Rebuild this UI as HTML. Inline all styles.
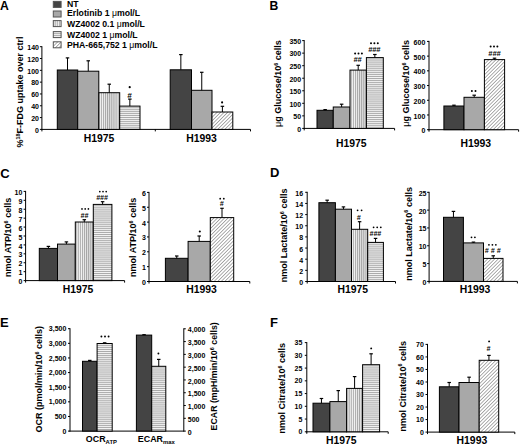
<!DOCTYPE html><html><head><meta charset="utf-8"><style>html,body{margin:0;padding:0;background:#fff;}svg{display:block;font-family:"Liberation Sans",sans-serif;}</style></head><body>
<svg width="520" height="445" viewBox="0 0 520 445">
<defs>
<pattern id="pv" width="2.1" height="10" patternUnits="userSpaceOnUse"><rect width="2.1" height="10" fill="#f4f4f4"/><rect x="0" width="1.1" height="10" fill="#a4a4a4"/></pattern>
<pattern id="ph" width="10" height="1.95" patternUnits="userSpaceOnUse"><rect width="10" height="1.95" fill="#f4f4f4"/><rect y="0" width="10" height="0.95" fill="#a8a8a8"/></pattern>
<pattern id="pd" width="2.5" height="2.5" patternUnits="userSpaceOnUse" patternTransform="rotate(45)"><rect width="2.5" height="2.5" fill="#fff"/><rect x="0" width="0.8" height="2.5" fill="#9a9a9a"/></pattern>
</defs>
<rect width="520" height="445" fill="#fff"/>
<text x="0" y="9.7" font-size="12.2" text-anchor="start" font-weight="bold" >A</text>
<text x="269.5" y="9.7" font-size="12.2" text-anchor="start" font-weight="bold" >B</text>
<text x="0.15" y="177.5" font-size="13" text-anchor="start" font-weight="bold" >C</text>
<text x="270" y="177.4" font-size="13" text-anchor="start" font-weight="bold" >D</text>
<text x="0" y="326.7" font-size="13" text-anchor="start" font-weight="bold" >E</text>
<text x="270.1" y="326.5" font-size="13" text-anchor="start" font-weight="bold" >F</text>
<rect x="53.3" y="1.4" width="7.8" height="6" fill="#444444" stroke="#555" stroke-width="1"/>
<text x="67" y="7.1" font-size="8.7" text-anchor="start" font-weight="bold" >NT</text>
<rect x="53.3" y="11" width="7.8" height="6" fill="#a8a8a8" stroke="#555" stroke-width="1"/>
<text x="67" y="16" font-size="8.7" text-anchor="start" font-weight="bold" >Erlotinib 1 <tspan font-weight="normal">μ</tspan>mol/L</text>
<rect x="53.3" y="20.6" width="7.8" height="6" fill="url(#pv)" stroke="#555" stroke-width="1"/>
<text x="67" y="26.8" font-size="8.7" text-anchor="start" font-weight="bold" >WZ4002 0.1 <tspan font-weight="normal">μ</tspan>mol/L</text>
<rect x="53.3" y="31.6" width="7.8" height="6" fill="url(#ph)" stroke="#555" stroke-width="1"/>
<text x="67" y="37.5" font-size="8.7" text-anchor="start" font-weight="bold" >WZ4002 1 <tspan font-weight="normal">μ</tspan>mol/L</text>
<rect x="53.3" y="41.8" width="7.8" height="6" fill="url(#pd)" stroke="#555" stroke-width="1"/>
<text x="67" y="47.7" font-size="8.7" text-anchor="start" font-weight="bold" >PHA-665,752 1 <tspan font-weight="normal">μ</tspan>mol/L</text>
<line x1="41.9" y1="46.2" x2="41.9" y2="129.9" stroke="#000" stroke-width="1"/>
<line x1="39.9" y1="129.4" x2="41.9" y2="129.4" stroke="#000" stroke-width="1"/>
<text x="39" y="132.7" font-size="7.0" text-anchor="end" font-weight="bold" >0</text>
<line x1="39.9" y1="117.59" x2="41.9" y2="117.59" stroke="#000" stroke-width="1"/>
<text x="39" y="120.89" font-size="7.0" text-anchor="end" font-weight="bold" >20</text>
<line x1="39.9" y1="105.77" x2="41.9" y2="105.77" stroke="#000" stroke-width="1"/>
<text x="39" y="109.07" font-size="7.0" text-anchor="end" font-weight="bold" >40</text>
<line x1="39.9" y1="93.96" x2="41.9" y2="93.96" stroke="#000" stroke-width="1"/>
<text x="39" y="97.26" font-size="7.0" text-anchor="end" font-weight="bold" >60</text>
<line x1="39.9" y1="82.14" x2="41.9" y2="82.14" stroke="#000" stroke-width="1"/>
<text x="39" y="85.44" font-size="7.0" text-anchor="end" font-weight="bold" >80</text>
<line x1="39.9" y1="70.33" x2="41.9" y2="70.33" stroke="#000" stroke-width="1"/>
<text x="39" y="73.63" font-size="7.0" text-anchor="end" font-weight="bold" >100</text>
<line x1="39.9" y1="58.51" x2="41.9" y2="58.51" stroke="#000" stroke-width="1"/>
<text x="39" y="61.81" font-size="7.0" text-anchor="end" font-weight="bold" >120</text>
<line x1="39.9" y1="46.7" x2="41.9" y2="46.7" stroke="#000" stroke-width="1"/>
<text x="39" y="50" font-size="7.0" text-anchor="end" font-weight="bold" >140</text>
<line x1="41.4" y1="129.4" x2="250.5" y2="129.4" stroke="#000" stroke-width="1"/>
<line x1="41.9" y1="129.4" x2="41.9" y2="131.4" stroke="#000" stroke-width="1"/>
<line x1="155.3" y1="129.4" x2="155.3" y2="131.4" stroke="#000" stroke-width="1"/>
<line x1="250.5" y1="129.4" x2="250.5" y2="131.4" stroke="#000" stroke-width="1"/>
<text transform="translate(23.2,92) rotate(-90)" font-size="9.0" text-anchor="middle" font-weight="bold">%<tspan font-size="5.5" dy="-3.2">18</tspan><tspan dy="3.2">F-FDG uptake over ctrl</tspan></text>
<rect x="57.3" y="70" width="20.4" height="59.4" fill="#444444" stroke="#000" stroke-width="1"/>
<line x1="67.5" y1="57.9" x2="67.5" y2="70" stroke="#000" stroke-width="1"/>
<line x1="65.75" y1="57.9" x2="69.25" y2="57.9" stroke="#000" stroke-width="1.2"/>
<rect x="77.7" y="71.2" width="21.1" height="58.2" fill="#a8a8a8" stroke="#000" stroke-width="1"/>
<line x1="88.25" y1="60.8" x2="88.25" y2="71.2" stroke="#000" stroke-width="1"/>
<line x1="86.5" y1="60.8" x2="90" y2="60.8" stroke="#000" stroke-width="1.2"/>
<rect x="98.8" y="92.7" width="20.9" height="36.7" fill="url(#pv)" stroke="#000" stroke-width="1"/>
<line x1="109.25" y1="84.2" x2="109.25" y2="92.7" stroke="#000" stroke-width="1"/>
<line x1="107.5" y1="84.2" x2="111" y2="84.2" stroke="#000" stroke-width="1.2"/>
<rect x="119.7" y="106.1" width="20.3" height="23.3" fill="url(#ph)" stroke="#000" stroke-width="1"/>
<line x1="129.85" y1="99.1" x2="129.85" y2="106.1" stroke="#000" stroke-width="1"/>
<line x1="128.1" y1="99.1" x2="131.6" y2="99.1" stroke="#000" stroke-width="1.2"/>
<circle cx="129.7" cy="87.2" r="1.1" fill="#000"/>
<text x="129.6" y="98" font-size="8" text-anchor="middle" font-weight="bold" font-style="italic">#</text>
<rect x="170.2" y="69.8" width="21.3" height="59.6" fill="#444444" stroke="#000" stroke-width="1"/>
<line x1="180.85" y1="54.6" x2="180.85" y2="69.8" stroke="#000" stroke-width="1"/>
<line x1="179.1" y1="54.6" x2="182.6" y2="54.6" stroke="#000" stroke-width="1.2"/>
<rect x="191.5" y="90.3" width="20.5" height="39.1" fill="#a8a8a8" stroke="#000" stroke-width="1"/>
<line x1="201.75" y1="72.3" x2="201.75" y2="90.3" stroke="#000" stroke-width="1"/>
<line x1="200" y1="72.3" x2="203.5" y2="72.3" stroke="#000" stroke-width="1.2"/>
<rect x="212" y="112" width="20.8" height="17.4" fill="url(#pd)" stroke="#000" stroke-width="1"/>
<line x1="222.4" y1="106.3" x2="222.4" y2="112" stroke="#000" stroke-width="1"/>
<line x1="220.65" y1="106.3" x2="224.15" y2="106.3" stroke="#000" stroke-width="1.2"/>
<circle cx="222.1" cy="102.4" r="1.05" fill="#000"/>
<text x="99" y="141.7" font-size="10.4" text-anchor="middle" font-weight="bold" >H1975</text>
<text x="201.6" y="141.6" font-size="10.4" text-anchor="middle" font-weight="bold" >H1993</text>
<line x1="304.2" y1="40.1" x2="304.2" y2="128.9" stroke="#000" stroke-width="1"/>
<line x1="302.2" y1="128.4" x2="304.2" y2="128.4" stroke="#000" stroke-width="1"/>
<text x="301.1" y="131.7" font-size="7.0" text-anchor="end" font-weight="bold" >0</text>
<line x1="302.2" y1="115.86" x2="304.2" y2="115.86" stroke="#000" stroke-width="1"/>
<text x="301.1" y="119.16" font-size="7.0" text-anchor="end" font-weight="bold" >50</text>
<line x1="302.2" y1="103.31" x2="304.2" y2="103.31" stroke="#000" stroke-width="1"/>
<text x="301.1" y="106.61" font-size="7.0" text-anchor="end" font-weight="bold" >100</text>
<line x1="302.2" y1="90.77" x2="304.2" y2="90.77" stroke="#000" stroke-width="1"/>
<text x="301.1" y="94.07" font-size="7.0" text-anchor="end" font-weight="bold" >150</text>
<line x1="302.2" y1="78.23" x2="304.2" y2="78.23" stroke="#000" stroke-width="1"/>
<text x="301.1" y="81.53" font-size="7.0" text-anchor="end" font-weight="bold" >200</text>
<line x1="302.2" y1="65.69" x2="304.2" y2="65.69" stroke="#000" stroke-width="1"/>
<text x="301.1" y="68.99" font-size="7.0" text-anchor="end" font-weight="bold" >250</text>
<line x1="302.2" y1="53.14" x2="304.2" y2="53.14" stroke="#000" stroke-width="1"/>
<text x="301.1" y="56.44" font-size="7.0" text-anchor="end" font-weight="bold" >300</text>
<line x1="302.2" y1="40.6" x2="304.2" y2="40.6" stroke="#000" stroke-width="1"/>
<text x="301.1" y="43.9" font-size="7.0" text-anchor="end" font-weight="bold" >350</text>
<line x1="303.7" y1="128.4" x2="394.6" y2="128.4" stroke="#000" stroke-width="1"/>
<line x1="304.2" y1="128.4" x2="304.2" y2="130.4" stroke="#000" stroke-width="1"/>
<line x1="394.6" y1="128.4" x2="394.6" y2="130.4" stroke="#000" stroke-width="1"/>
<text transform="translate(281.1,83.55) rotate(-90)" font-size="9.0" text-anchor="middle" font-weight="bold"><tspan font-weight="normal">μ</tspan>g Glucose/10<tspan font-size="5.5" dy="-3.2">6</tspan><tspan dy="3.2"> </tspan>cells</text>
<rect x="317" y="110.3" width="16.25" height="18.1" fill="#444444" stroke="#000" stroke-width="1"/>
<line x1="325.12" y1="109.6" x2="325.12" y2="110.3" stroke="#000" stroke-width="1"/>
<line x1="323.38" y1="109.6" x2="326.88" y2="109.6" stroke="#000" stroke-width="1.2"/>
<rect x="333.25" y="107" width="16.75" height="21.4" fill="#a8a8a8" stroke="#000" stroke-width="1"/>
<line x1="341.62" y1="104.2" x2="341.62" y2="107" stroke="#000" stroke-width="1"/>
<line x1="339.88" y1="104.2" x2="343.38" y2="104.2" stroke="#000" stroke-width="1.2"/>
<rect x="350" y="70.1" width="16.4" height="58.3" fill="url(#pv)" stroke="#000" stroke-width="1"/>
<line x1="358.2" y1="65.3" x2="358.2" y2="70.1" stroke="#000" stroke-width="1"/>
<line x1="356.45" y1="65.3" x2="359.95" y2="65.3" stroke="#000" stroke-width="1.2"/>
<rect x="366.4" y="57.6" width="16.9" height="70.8" fill="url(#ph)" stroke="#000" stroke-width="1"/>
<line x1="374.85" y1="54.5" x2="374.85" y2="57.6" stroke="#000" stroke-width="1"/>
<line x1="373.1" y1="54.5" x2="376.6" y2="54.5" stroke="#000" stroke-width="1.2"/>
<circle cx="355.1" cy="53.4" r="1.0" fill="#000"/>
<circle cx="358.5" cy="53.4" r="1.0" fill="#000"/>
<circle cx="361.9" cy="53.4" r="1.0" fill="#000"/>
<text x="357.5" y="62.4" font-size="7.4" text-anchor="middle" font-weight="bold" font-style="italic">##</text>
<circle cx="371" cy="43.2" r="1.0" fill="#000"/>
<circle cx="374.4" cy="43.2" r="1.0" fill="#000"/>
<circle cx="377.8" cy="43.2" r="1.0" fill="#000"/>
<text x="374.3" y="52.3" font-size="7.4" text-anchor="middle" font-weight="bold" font-style="italic">###</text>
<text x="351.35" y="147" font-size="10.4" text-anchor="middle" font-weight="bold" >H1975</text>
<line x1="429" y1="40.9" x2="429" y2="130.2" stroke="#000" stroke-width="1"/>
<line x1="427" y1="129.7" x2="429" y2="129.7" stroke="#000" stroke-width="1"/>
<text x="425.3" y="133.3" font-size="7.0" text-anchor="end" font-weight="bold" >0</text>
<line x1="427" y1="114.98" x2="429" y2="114.98" stroke="#000" stroke-width="1"/>
<text x="425.3" y="118.58" font-size="7.0" text-anchor="end" font-weight="bold" >100</text>
<line x1="427" y1="100.27" x2="429" y2="100.27" stroke="#000" stroke-width="1"/>
<text x="425.3" y="103.87" font-size="7.0" text-anchor="end" font-weight="bold" >200</text>
<line x1="427" y1="85.55" x2="429" y2="85.55" stroke="#000" stroke-width="1"/>
<text x="425.3" y="89.15" font-size="7.0" text-anchor="end" font-weight="bold" >300</text>
<line x1="427" y1="70.83" x2="429" y2="70.83" stroke="#000" stroke-width="1"/>
<text x="425.3" y="74.43" font-size="7.0" text-anchor="end" font-weight="bold" >400</text>
<line x1="427" y1="56.12" x2="429" y2="56.12" stroke="#000" stroke-width="1"/>
<text x="425.3" y="59.72" font-size="7.0" text-anchor="end" font-weight="bold" >500</text>
<line x1="427" y1="41.4" x2="429" y2="41.4" stroke="#000" stroke-width="1"/>
<text x="425.3" y="45" font-size="7.0" text-anchor="end" font-weight="bold" >600</text>
<line x1="428.5" y1="129.7" x2="518.6" y2="129.7" stroke="#000" stroke-width="1"/>
<line x1="429" y1="129.7" x2="429" y2="131.7" stroke="#000" stroke-width="1"/>
<line x1="518.6" y1="129.7" x2="518.6" y2="131.7" stroke="#000" stroke-width="1"/>
<text transform="translate(409.1,83.35) rotate(-90)" font-size="9.0" text-anchor="middle" font-weight="bold"><tspan font-weight="normal">μ</tspan>g Glucose/10<tspan font-size="5.5" dy="-3.2">6</tspan><tspan dy="3.2"> </tspan>cells</text>
<rect x="443.9" y="106" width="20.1" height="23.7" fill="#444444" stroke="#000" stroke-width="1"/>
<line x1="453.95" y1="105.2" x2="453.95" y2="106" stroke="#000" stroke-width="1"/>
<line x1="452.2" y1="105.2" x2="455.7" y2="105.2" stroke="#000" stroke-width="1.2"/>
<rect x="464" y="97.3" width="20.4" height="32.4" fill="#a8a8a8" stroke="#000" stroke-width="1"/>
<line x1="474.2" y1="95.2" x2="474.2" y2="97.3" stroke="#000" stroke-width="1"/>
<line x1="472.45" y1="95.2" x2="475.95" y2="95.2" stroke="#000" stroke-width="1.2"/>
<rect x="484.4" y="59.6" width="20.2" height="70.1" fill="url(#pd)" stroke="#000" stroke-width="1"/>
<line x1="494.5" y1="58.2" x2="494.5" y2="59.6" stroke="#000" stroke-width="1"/>
<line x1="492.75" y1="58.2" x2="496.25" y2="58.2" stroke="#000" stroke-width="1.2"/>
<circle cx="471.9" cy="91" r="1.0" fill="#000"/>
<circle cx="475.5" cy="91" r="1.0" fill="#000"/>
<circle cx="490.65" cy="46.5" r="1.0" fill="#000"/>
<circle cx="494" cy="46.5" r="1.0" fill="#000"/>
<circle cx="497.35" cy="46.5" r="1.0" fill="#000"/>
<text x="494.5" y="55.7" font-size="7.4" text-anchor="middle" font-weight="bold" font-style="italic">###</text>
<text x="475.7" y="147.1" font-size="10.4" text-anchor="middle" font-weight="bold" >H1993</text>
<line x1="25.6" y1="190.9" x2="25.6" y2="281.1" stroke="#000" stroke-width="1"/>
<line x1="23.6" y1="280.6" x2="25.6" y2="280.6" stroke="#000" stroke-width="1"/>
<text x="22.4" y="284.2" font-size="7.0" text-anchor="end" font-weight="bold" >0</text>
<line x1="23.6" y1="271.68" x2="25.6" y2="271.68" stroke="#000" stroke-width="1"/>
<text x="22.4" y="275.28" font-size="7.0" text-anchor="end" font-weight="bold" >1</text>
<line x1="23.6" y1="262.76" x2="25.6" y2="262.76" stroke="#000" stroke-width="1"/>
<text x="22.4" y="266.36" font-size="7.0" text-anchor="end" font-weight="bold" >2</text>
<line x1="23.6" y1="253.84" x2="25.6" y2="253.84" stroke="#000" stroke-width="1"/>
<text x="22.4" y="257.44" font-size="7.0" text-anchor="end" font-weight="bold" >3</text>
<line x1="23.6" y1="244.92" x2="25.6" y2="244.92" stroke="#000" stroke-width="1"/>
<text x="22.4" y="248.52" font-size="7.0" text-anchor="end" font-weight="bold" >4</text>
<line x1="23.6" y1="236" x2="25.6" y2="236" stroke="#000" stroke-width="1"/>
<text x="22.4" y="239.6" font-size="7.0" text-anchor="end" font-weight="bold" >5</text>
<line x1="23.6" y1="227.08" x2="25.6" y2="227.08" stroke="#000" stroke-width="1"/>
<text x="22.4" y="230.68" font-size="7.0" text-anchor="end" font-weight="bold" >6</text>
<line x1="23.6" y1="218.16" x2="25.6" y2="218.16" stroke="#000" stroke-width="1"/>
<text x="22.4" y="221.76" font-size="7.0" text-anchor="end" font-weight="bold" >7</text>
<line x1="23.6" y1="209.24" x2="25.6" y2="209.24" stroke="#000" stroke-width="1"/>
<text x="22.4" y="212.84" font-size="7.0" text-anchor="end" font-weight="bold" >8</text>
<line x1="23.6" y1="200.32" x2="25.6" y2="200.32" stroke="#000" stroke-width="1"/>
<text x="22.4" y="203.92" font-size="7.0" text-anchor="end" font-weight="bold" >9</text>
<line x1="23.6" y1="191.4" x2="25.6" y2="191.4" stroke="#000" stroke-width="1"/>
<text x="22.4" y="195" font-size="7.0" text-anchor="end" font-weight="bold" >10</text>
<line x1="25.1" y1="280.6" x2="124.6" y2="280.6" stroke="#000" stroke-width="1"/>
<line x1="25.6" y1="280.6" x2="25.6" y2="282.6" stroke="#000" stroke-width="1"/>
<line x1="124.6" y1="280.6" x2="124.6" y2="282.6" stroke="#000" stroke-width="1"/>
<text transform="translate(11,237.35) rotate(-90)" font-size="9.0" text-anchor="middle" font-weight="bold">nmol ATP/10<tspan font-size="5.5" dy="-3.2">6</tspan><tspan dy="3.2"> </tspan>cells</text>
<rect x="39.3" y="248.4" width="18.2" height="32.2" fill="#444444" stroke="#000" stroke-width="1"/>
<line x1="48.4" y1="246.4" x2="48.4" y2="248.4" stroke="#000" stroke-width="1"/>
<line x1="46.65" y1="246.4" x2="50.15" y2="246.4" stroke="#000" stroke-width="1.2"/>
<rect x="57.5" y="244.1" width="17.8" height="36.5" fill="#a8a8a8" stroke="#000" stroke-width="1"/>
<line x1="66.4" y1="241.9" x2="66.4" y2="244.1" stroke="#000" stroke-width="1"/>
<line x1="64.65" y1="241.9" x2="68.15" y2="241.9" stroke="#000" stroke-width="1.2"/>
<rect x="75.3" y="222" width="18" height="58.6" fill="url(#pv)" stroke="#000" stroke-width="1"/>
<line x1="84.3" y1="219.7" x2="84.3" y2="222" stroke="#000" stroke-width="1"/>
<line x1="82.55" y1="219.7" x2="86.05" y2="219.7" stroke="#000" stroke-width="1.2"/>
<rect x="93.3" y="204.4" width="18.6" height="76.2" fill="url(#ph)" stroke="#000" stroke-width="1"/>
<line x1="102.6" y1="201.7" x2="102.6" y2="204.4" stroke="#000" stroke-width="1"/>
<line x1="100.85" y1="201.7" x2="104.35" y2="201.7" stroke="#000" stroke-width="1.2"/>
<circle cx="82" cy="208.9" r="0.85" fill="#000"/>
<circle cx="85.2" cy="208.9" r="0.85" fill="#000"/>
<circle cx="88.4" cy="208.9" r="0.85" fill="#000"/>
<text x="84.4" y="217.6" font-size="7.0" text-anchor="middle" font-weight="bold" font-style="italic">##</text>
<circle cx="99.8" cy="191.6" r="0.85" fill="#000"/>
<circle cx="103" cy="191.6" r="0.85" fill="#000"/>
<circle cx="106.2" cy="191.6" r="0.85" fill="#000"/>
<text x="102" y="200.1" font-size="7.0" text-anchor="middle" font-weight="bold" font-style="italic">###</text>
<text x="78" y="292.9" font-size="10.4" text-anchor="middle" font-weight="bold" >H1975</text>
<line x1="149" y1="191.9" x2="149" y2="282" stroke="#000" stroke-width="1"/>
<line x1="147" y1="281.5" x2="149" y2="281.5" stroke="#000" stroke-width="1"/>
<text x="145.8" y="285" font-size="7.0" text-anchor="end" font-weight="bold" >0</text>
<line x1="147" y1="266.65" x2="149" y2="266.65" stroke="#000" stroke-width="1"/>
<text x="145.8" y="270.15" font-size="7.0" text-anchor="end" font-weight="bold" >1</text>
<line x1="147" y1="251.8" x2="149" y2="251.8" stroke="#000" stroke-width="1"/>
<text x="145.8" y="255.3" font-size="7.0" text-anchor="end" font-weight="bold" >2</text>
<line x1="147" y1="236.95" x2="149" y2="236.95" stroke="#000" stroke-width="1"/>
<text x="145.8" y="240.45" font-size="7.0" text-anchor="end" font-weight="bold" >3</text>
<line x1="147" y1="222.1" x2="149" y2="222.1" stroke="#000" stroke-width="1"/>
<text x="145.8" y="225.6" font-size="7.0" text-anchor="end" font-weight="bold" >4</text>
<line x1="147" y1="207.25" x2="149" y2="207.25" stroke="#000" stroke-width="1"/>
<text x="145.8" y="210.75" font-size="7.0" text-anchor="end" font-weight="bold" >5</text>
<line x1="147" y1="192.4" x2="149" y2="192.4" stroke="#000" stroke-width="1"/>
<text x="145.8" y="195.9" font-size="7.0" text-anchor="end" font-weight="bold" >6</text>
<line x1="148.5" y1="281.5" x2="249.8" y2="281.5" stroke="#000" stroke-width="1"/>
<line x1="149" y1="281.5" x2="149" y2="283.5" stroke="#000" stroke-width="1"/>
<line x1="249.8" y1="281.5" x2="249.8" y2="283.5" stroke="#000" stroke-width="1"/>
<text transform="translate(135.9,237.35) rotate(-90)" font-size="9.0" text-anchor="middle" font-weight="bold">nmol ATP/10<tspan font-size="5.5" dy="-3.2">6</tspan><tspan dy="3.2"> </tspan>cells</text>
<rect x="165.4" y="258.3" width="22.7" height="23.2" fill="#444444" stroke="#000" stroke-width="1"/>
<line x1="176.75" y1="256" x2="176.75" y2="258.3" stroke="#000" stroke-width="1"/>
<line x1="175" y1="256" x2="178.5" y2="256" stroke="#000" stroke-width="1.2"/>
<rect x="188.1" y="241.4" width="22.2" height="40.1" fill="#a8a8a8" stroke="#000" stroke-width="1"/>
<line x1="199.2" y1="236" x2="199.2" y2="241.4" stroke="#000" stroke-width="1"/>
<line x1="197.45" y1="236" x2="200.95" y2="236" stroke="#000" stroke-width="1.2"/>
<rect x="210.3" y="217.6" width="23.4" height="63.9" fill="url(#pd)" stroke="#000" stroke-width="1"/>
<line x1="222" y1="208.3" x2="222" y2="217.6" stroke="#000" stroke-width="1"/>
<line x1="220.25" y1="208.3" x2="223.75" y2="208.3" stroke="#000" stroke-width="1.2"/>
<circle cx="199.8" cy="231.5" r="1.05" fill="#000"/>
<circle cx="220.2" cy="198.7" r="0.9" fill="#000"/>
<circle cx="223.8" cy="198.7" r="0.9" fill="#000"/>
<text x="221.8" y="205.7" font-size="7.0" text-anchor="middle" font-weight="bold" font-style="italic">#</text>
<text x="201.6" y="292.6" font-size="10.4" text-anchor="middle" font-weight="bold" >H1993</text>
<line x1="307.2" y1="191.8" x2="307.2" y2="282" stroke="#000" stroke-width="1"/>
<line x1="305.2" y1="281.5" x2="307.2" y2="281.5" stroke="#000" stroke-width="1"/>
<text x="303.1" y="285" font-size="7.0" text-anchor="end" font-weight="bold" >0</text>
<line x1="305.2" y1="270.35" x2="307.2" y2="270.35" stroke="#000" stroke-width="1"/>
<text x="303.1" y="273.85" font-size="7.0" text-anchor="end" font-weight="bold" >2</text>
<line x1="305.2" y1="259.2" x2="307.2" y2="259.2" stroke="#000" stroke-width="1"/>
<text x="303.1" y="262.7" font-size="7.0" text-anchor="end" font-weight="bold" >4</text>
<line x1="305.2" y1="248.05" x2="307.2" y2="248.05" stroke="#000" stroke-width="1"/>
<text x="303.1" y="251.55" font-size="7.0" text-anchor="end" font-weight="bold" >6</text>
<line x1="305.2" y1="236.9" x2="307.2" y2="236.9" stroke="#000" stroke-width="1"/>
<text x="303.1" y="240.4" font-size="7.0" text-anchor="end" font-weight="bold" >8</text>
<line x1="305.2" y1="225.75" x2="307.2" y2="225.75" stroke="#000" stroke-width="1"/>
<text x="303.1" y="229.25" font-size="7.0" text-anchor="end" font-weight="bold" >10</text>
<line x1="305.2" y1="214.6" x2="307.2" y2="214.6" stroke="#000" stroke-width="1"/>
<text x="303.1" y="218.1" font-size="7.0" text-anchor="end" font-weight="bold" >12</text>
<line x1="305.2" y1="203.45" x2="307.2" y2="203.45" stroke="#000" stroke-width="1"/>
<text x="303.1" y="206.95" font-size="7.0" text-anchor="end" font-weight="bold" >14</text>
<line x1="305.2" y1="192.3" x2="307.2" y2="192.3" stroke="#000" stroke-width="1"/>
<text x="303.1" y="195.8" font-size="7.0" text-anchor="end" font-weight="bold" >16</text>
<line x1="306.7" y1="281.5" x2="395.5" y2="281.5" stroke="#000" stroke-width="1"/>
<line x1="307.2" y1="281.5" x2="307.2" y2="283.5" stroke="#000" stroke-width="1"/>
<line x1="395.5" y1="281.5" x2="395.5" y2="283.5" stroke="#000" stroke-width="1"/>
<text transform="translate(287.2,235.35) rotate(-90)" font-size="9.0" text-anchor="middle" font-weight="bold">nmol Lactate/10<tspan font-size="5.5" dy="-3.2">6</tspan><tspan dy="3.2"> </tspan>cells</text>
<rect x="318.9" y="202.7" width="16.5" height="78.8" fill="#444444" stroke="#000" stroke-width="1"/>
<line x1="327.15" y1="200.2" x2="327.15" y2="202.7" stroke="#000" stroke-width="1"/>
<line x1="325.4" y1="200.2" x2="328.9" y2="200.2" stroke="#000" stroke-width="1.2"/>
<rect x="335.4" y="209.2" width="16.1" height="72.3" fill="#a8a8a8" stroke="#000" stroke-width="1"/>
<line x1="343.45" y1="206.9" x2="343.45" y2="209.2" stroke="#000" stroke-width="1"/>
<line x1="341.7" y1="206.9" x2="345.2" y2="206.9" stroke="#000" stroke-width="1.2"/>
<rect x="351.5" y="229.3" width="16.2" height="52.2" fill="url(#pv)" stroke="#000" stroke-width="1"/>
<line x1="359.6" y1="221.7" x2="359.6" y2="229.3" stroke="#000" stroke-width="1"/>
<line x1="357.85" y1="221.7" x2="361.35" y2="221.7" stroke="#000" stroke-width="1.2"/>
<rect x="367.7" y="242.4" width="15.7" height="39.1" fill="url(#ph)" stroke="#000" stroke-width="1"/>
<line x1="375.55" y1="238.4" x2="375.55" y2="242.4" stroke="#000" stroke-width="1"/>
<line x1="373.8" y1="238.4" x2="377.3" y2="238.4" stroke="#000" stroke-width="1.2"/>
<circle cx="357.6" cy="210.3" r="0.9" fill="#000"/>
<circle cx="361.6" cy="210.3" r="0.9" fill="#000"/>
<text x="358.8" y="220.2" font-size="7.0" text-anchor="middle" font-weight="bold" font-style="italic">#</text>
<circle cx="373.6" cy="227.3" r="0.9" fill="#000"/>
<circle cx="377.2" cy="227.3" r="0.9" fill="#000"/>
<circle cx="380.8" cy="227.3" r="0.9" fill="#000"/>
<text x="375.4" y="235.6" font-size="7.0" text-anchor="middle" font-weight="bold" font-style="italic">###</text>
<text x="352.8" y="292.7" font-size="10.4" text-anchor="middle" font-weight="bold" >H1975</text>
<line x1="429.1" y1="191.8" x2="429.1" y2="281.9" stroke="#000" stroke-width="1"/>
<line x1="427.1" y1="281.4" x2="429.1" y2="281.4" stroke="#000" stroke-width="1"/>
<text x="426.5" y="284.9" font-size="7.0" text-anchor="end" font-weight="bold" >0</text>
<line x1="427.1" y1="263.58" x2="429.1" y2="263.58" stroke="#000" stroke-width="1"/>
<text x="426.5" y="267.08" font-size="7.0" text-anchor="end" font-weight="bold" >5</text>
<line x1="427.1" y1="245.76" x2="429.1" y2="245.76" stroke="#000" stroke-width="1"/>
<text x="426.5" y="249.26" font-size="7.0" text-anchor="end" font-weight="bold" >10</text>
<line x1="427.1" y1="227.94" x2="429.1" y2="227.94" stroke="#000" stroke-width="1"/>
<text x="426.5" y="231.44" font-size="7.0" text-anchor="end" font-weight="bold" >15</text>
<line x1="427.1" y1="210.12" x2="429.1" y2="210.12" stroke="#000" stroke-width="1"/>
<text x="426.5" y="213.62" font-size="7.0" text-anchor="end" font-weight="bold" >20</text>
<line x1="427.1" y1="192.3" x2="429.1" y2="192.3" stroke="#000" stroke-width="1"/>
<text x="426.5" y="195.8" font-size="7.0" text-anchor="end" font-weight="bold" >25</text>
<line x1="428.6" y1="281.4" x2="517.4" y2="281.4" stroke="#000" stroke-width="1"/>
<line x1="429.1" y1="281.4" x2="429.1" y2="283.4" stroke="#000" stroke-width="1"/>
<line x1="517.4" y1="281.4" x2="517.4" y2="283.4" stroke="#000" stroke-width="1"/>
<text transform="translate(411.6,233.85) rotate(-90)" font-size="9.0" text-anchor="middle" font-weight="bold">nmol Lactate/10<tspan font-size="5.5" dy="-3.2">6</tspan><tspan dy="3.2"> </tspan>cells</text>
<rect x="443.5" y="217.3" width="19.9" height="64.1" fill="#444444" stroke="#000" stroke-width="1"/>
<line x1="453.45" y1="211.4" x2="453.45" y2="217.3" stroke="#000" stroke-width="1"/>
<line x1="451.7" y1="211.4" x2="455.2" y2="211.4" stroke="#000" stroke-width="1.2"/>
<rect x="463.4" y="242.9" width="20.1" height="38.5" fill="#a8a8a8" stroke="#000" stroke-width="1"/>
<line x1="473.45" y1="242.1" x2="473.45" y2="242.9" stroke="#000" stroke-width="1"/>
<line x1="471.7" y1="242.1" x2="475.2" y2="242.1" stroke="#000" stroke-width="1.2"/>
<rect x="483.5" y="258.4" width="19.5" height="23" fill="url(#pd)" stroke="#000" stroke-width="1"/>
<line x1="493.25" y1="255.8" x2="493.25" y2="258.4" stroke="#000" stroke-width="1"/>
<line x1="491.5" y1="255.8" x2="495" y2="255.8" stroke="#000" stroke-width="1.2"/>
<circle cx="471.5" cy="237.3" r="0.9" fill="#000"/>
<circle cx="474.9" cy="237.3" r="0.9" fill="#000"/>
<circle cx="488.95" cy="244.8" r="0.9" fill="#000"/>
<circle cx="492.4" cy="244.8" r="0.9" fill="#000"/>
<circle cx="495.85" cy="244.8" r="0.9" fill="#000"/>
<text x="493.8" y="253.4" font-size="7.0" text-anchor="middle" font-weight="bold" font-style="italic" letter-spacing="2.2">###</text>
<text x="475" y="292.6" font-size="10.4" text-anchor="middle" font-weight="bold" >H1993</text>
<line x1="70" y1="328.2" x2="70" y2="431.6" stroke="#000" stroke-width="1"/>
<line x1="68" y1="431.1" x2="70" y2="431.1" stroke="#000" stroke-width="1"/>
<text x="66.4" y="433.7" font-size="7.0" text-anchor="end" font-weight="bold" >0</text>
<line x1="68" y1="416.47" x2="70" y2="416.47" stroke="#000" stroke-width="1"/>
<text x="66.4" y="419.07" font-size="7.0" text-anchor="end" font-weight="bold" >500</text>
<line x1="68" y1="401.84" x2="70" y2="401.84" stroke="#000" stroke-width="1"/>
<text x="66.4" y="404.44" font-size="7.0" text-anchor="end" font-weight="bold" >1,000</text>
<line x1="68" y1="387.21" x2="70" y2="387.21" stroke="#000" stroke-width="1"/>
<text x="66.4" y="389.81" font-size="7.0" text-anchor="end" font-weight="bold" >1,500</text>
<line x1="68" y1="372.59" x2="70" y2="372.59" stroke="#000" stroke-width="1"/>
<text x="66.4" y="375.19" font-size="7.0" text-anchor="end" font-weight="bold" >2,000</text>
<line x1="68" y1="357.96" x2="70" y2="357.96" stroke="#000" stroke-width="1"/>
<text x="66.4" y="360.56" font-size="7.0" text-anchor="end" font-weight="bold" >2,500</text>
<line x1="68" y1="343.33" x2="70" y2="343.33" stroke="#000" stroke-width="1"/>
<text x="66.4" y="345.93" font-size="7.0" text-anchor="end" font-weight="bold" >3,000</text>
<line x1="68" y1="328.7" x2="70" y2="328.7" stroke="#000" stroke-width="1"/>
<text x="66.4" y="331.3" font-size="7.0" text-anchor="end" font-weight="bold" >3,500</text>
<line x1="183.8" y1="328.3" x2="183.8" y2="431.6" stroke="#000" stroke-width="1"/>
<line x1="183.8" y1="431.1" x2="185.8" y2="431.1" stroke="#000" stroke-width="1"/>
<text x="187.8" y="434.7" font-size="7.0" text-anchor="start" font-weight="bold" >0</text>
<line x1="183.8" y1="418.31" x2="185.8" y2="418.31" stroke="#000" stroke-width="1"/>
<text x="187.8" y="421.91" font-size="7.0" text-anchor="start" font-weight="bold" >500</text>
<line x1="183.8" y1="405.53" x2="185.8" y2="405.53" stroke="#000" stroke-width="1"/>
<text x="187.8" y="409.13" font-size="7.0" text-anchor="start" font-weight="bold" >1,000</text>
<line x1="183.8" y1="392.74" x2="185.8" y2="392.74" stroke="#000" stroke-width="1"/>
<text x="187.8" y="396.34" font-size="7.0" text-anchor="start" font-weight="bold" >1,500</text>
<line x1="183.8" y1="379.95" x2="185.8" y2="379.95" stroke="#000" stroke-width="1"/>
<text x="187.8" y="383.55" font-size="7.0" text-anchor="start" font-weight="bold" >2,000</text>
<line x1="183.8" y1="367.16" x2="185.8" y2="367.16" stroke="#000" stroke-width="1"/>
<text x="187.8" y="370.76" font-size="7.0" text-anchor="start" font-weight="bold" >2,500</text>
<line x1="183.8" y1="354.38" x2="185.8" y2="354.38" stroke="#000" stroke-width="1"/>
<text x="187.8" y="357.98" font-size="7.0" text-anchor="start" font-weight="bold" >3,000</text>
<line x1="183.8" y1="341.59" x2="185.8" y2="341.59" stroke="#000" stroke-width="1"/>
<text x="187.8" y="345.19" font-size="7.0" text-anchor="start" font-weight="bold" >3,500</text>
<line x1="183.8" y1="328.8" x2="185.8" y2="328.8" stroke="#000" stroke-width="1"/>
<text x="187.8" y="332.4" font-size="7.0" text-anchor="start" font-weight="bold" >4,000</text>
<line x1="69.5" y1="431.1" x2="184" y2="431.1" stroke="#000" stroke-width="1"/>
<text transform="translate(42.2,379.2) rotate(-90)" font-size="9.0" text-anchor="middle" font-weight="bold">OCR (pmol/min/10<tspan font-size="5.5" dy="-3.2">6</tspan><tspan dy="3.2"> </tspan>cells)</text>
<text transform="translate(216.9,376.35) rotate(-90)" font-size="8.8" text-anchor="middle" font-weight="bold">ECAR (mpH/min/10<tspan font-size="5.5" dy="-3.2">6</tspan><tspan dy="3.2"> </tspan>cells)</text>
<rect x="82.5" y="361.3" width="14.6" height="69.8" fill="#444444" stroke="#000" stroke-width="1"/>
<line x1="89.8" y1="360.4" x2="89.8" y2="361.3" stroke="#000" stroke-width="1"/>
<line x1="88.05" y1="360.4" x2="91.55" y2="360.4" stroke="#000" stroke-width="1.2"/>
<rect x="97.1" y="343.5" width="15.1" height="87.6" fill="url(#ph)" stroke="#000" stroke-width="1"/>
<line x1="104.65" y1="342.8" x2="104.65" y2="343.5" stroke="#000" stroke-width="1"/>
<line x1="102.9" y1="342.8" x2="106.4" y2="342.8" stroke="#000" stroke-width="1.2"/>
<rect x="136.4" y="335.1" width="15.3" height="96" fill="#444444" stroke="#000" stroke-width="1"/>
<line x1="144.05" y1="334.7" x2="144.05" y2="335.1" stroke="#000" stroke-width="1"/>
<line x1="142.3" y1="334.7" x2="145.8" y2="334.7" stroke="#000" stroke-width="1.2"/>
<rect x="151.7" y="366.3" width="14.1" height="64.8" fill="url(#ph)" stroke="#000" stroke-width="1"/>
<line x1="158.75" y1="359.4" x2="158.75" y2="366.3" stroke="#000" stroke-width="1"/>
<line x1="157" y1="359.4" x2="160.5" y2="359.4" stroke="#000" stroke-width="1.2"/>
<circle cx="101.4" cy="336.5" r="0.95" fill="#000"/>
<circle cx="105" cy="336.5" r="0.95" fill="#000"/>
<circle cx="108.6" cy="336.5" r="0.95" fill="#000"/>
<circle cx="158.4" cy="353.5" r="0.95" fill="#000"/>
<text x="101.4" y="442.4" font-size="8.9" text-anchor="middle" font-weight="bold" >OCR<tspan font-size="5.9" dy="1.6">ATP</tspan></text>
<text x="156.3" y="442.4" font-size="8.9" text-anchor="middle" font-weight="bold" >ECAR<tspan font-size="5.9" dy="1.6">max</tspan></text>
<line x1="306.8" y1="342.1" x2="306.8" y2="432.3" stroke="#000" stroke-width="1"/>
<line x1="304.8" y1="431.8" x2="306.8" y2="431.8" stroke="#000" stroke-width="1"/>
<text x="302.4" y="434.4" font-size="7.0" text-anchor="end" font-weight="bold" >0</text>
<line x1="304.8" y1="419.06" x2="306.8" y2="419.06" stroke="#000" stroke-width="1"/>
<text x="302.4" y="421.66" font-size="7.0" text-anchor="end" font-weight="bold" >5</text>
<line x1="304.8" y1="406.31" x2="306.8" y2="406.31" stroke="#000" stroke-width="1"/>
<text x="302.4" y="408.91" font-size="7.0" text-anchor="end" font-weight="bold" >10</text>
<line x1="304.8" y1="393.57" x2="306.8" y2="393.57" stroke="#000" stroke-width="1"/>
<text x="302.4" y="396.17" font-size="7.0" text-anchor="end" font-weight="bold" >15</text>
<line x1="304.8" y1="380.83" x2="306.8" y2="380.83" stroke="#000" stroke-width="1"/>
<text x="302.4" y="383.43" font-size="7.0" text-anchor="end" font-weight="bold" >20</text>
<line x1="304.8" y1="368.09" x2="306.8" y2="368.09" stroke="#000" stroke-width="1"/>
<text x="302.4" y="370.69" font-size="7.0" text-anchor="end" font-weight="bold" >25</text>
<line x1="304.8" y1="355.34" x2="306.8" y2="355.34" stroke="#000" stroke-width="1"/>
<text x="302.4" y="357.94" font-size="7.0" text-anchor="end" font-weight="bold" >30</text>
<line x1="304.8" y1="342.6" x2="306.8" y2="342.6" stroke="#000" stroke-width="1"/>
<text x="302.4" y="345.2" font-size="7.0" text-anchor="end" font-weight="bold" >35</text>
<line x1="306.3" y1="431.8" x2="388.2" y2="431.8" stroke="#000" stroke-width="1"/>
<line x1="306.8" y1="431.8" x2="306.8" y2="433.8" stroke="#000" stroke-width="1"/>
<line x1="388.2" y1="431.8" x2="388.2" y2="433.8" stroke="#000" stroke-width="1"/>
<text transform="translate(285.2,388.2) rotate(-90)" font-size="9.0" text-anchor="middle" font-weight="bold">nmol Citrate/10<tspan font-size="5.5" dy="-3.2">6</tspan><tspan dy="3.2"> </tspan>cells</text>
<rect x="313" y="403.2" width="16.9" height="28.6" fill="#444444" stroke="#000" stroke-width="1"/>
<line x1="321.45" y1="398.5" x2="321.45" y2="403.2" stroke="#000" stroke-width="1"/>
<line x1="319.7" y1="398.5" x2="323.2" y2="398.5" stroke="#000" stroke-width="1.2"/>
<rect x="329.9" y="401.6" width="16.7" height="30.2" fill="#a8a8a8" stroke="#000" stroke-width="1"/>
<line x1="338.25" y1="390.6" x2="338.25" y2="401.6" stroke="#000" stroke-width="1"/>
<line x1="336.5" y1="390.6" x2="340" y2="390.6" stroke="#000" stroke-width="1.2"/>
<rect x="346.6" y="388.4" width="16" height="43.4" fill="url(#pv)" stroke="#000" stroke-width="1"/>
<line x1="354.6" y1="376.6" x2="354.6" y2="388.4" stroke="#000" stroke-width="1"/>
<line x1="352.85" y1="376.6" x2="356.35" y2="376.6" stroke="#000" stroke-width="1.2"/>
<rect x="362.6" y="364.7" width="17" height="67.1" fill="url(#ph)" stroke="#000" stroke-width="1"/>
<line x1="371.1" y1="353.8" x2="371.1" y2="364.7" stroke="#000" stroke-width="1"/>
<line x1="369.35" y1="353.8" x2="372.85" y2="353.8" stroke="#000" stroke-width="1.2"/>
<circle cx="371.2" cy="348.4" r="0.95" fill="#000"/>
<text x="341.2" y="443.5" font-size="10.4" text-anchor="middle" font-weight="bold" >H1975</text>
<line x1="427.5" y1="343.9" x2="427.5" y2="432.6" stroke="#000" stroke-width="1"/>
<line x1="425.5" y1="432.1" x2="427.5" y2="432.1" stroke="#000" stroke-width="1"/>
<text x="423.8" y="434.7" font-size="7.0" text-anchor="end" font-weight="bold" >0</text>
<line x1="425.5" y1="419.57" x2="427.5" y2="419.57" stroke="#000" stroke-width="1"/>
<text x="423.8" y="422.17" font-size="7.0" text-anchor="end" font-weight="bold" >10</text>
<line x1="425.5" y1="407.04" x2="427.5" y2="407.04" stroke="#000" stroke-width="1"/>
<text x="423.8" y="409.64" font-size="7.0" text-anchor="end" font-weight="bold" >20</text>
<line x1="425.5" y1="394.51" x2="427.5" y2="394.51" stroke="#000" stroke-width="1"/>
<text x="423.8" y="397.11" font-size="7.0" text-anchor="end" font-weight="bold" >30</text>
<line x1="425.5" y1="381.99" x2="427.5" y2="381.99" stroke="#000" stroke-width="1"/>
<text x="423.8" y="384.59" font-size="7.0" text-anchor="end" font-weight="bold" >40</text>
<line x1="425.5" y1="369.46" x2="427.5" y2="369.46" stroke="#000" stroke-width="1"/>
<text x="423.8" y="372.06" font-size="7.0" text-anchor="end" font-weight="bold" >50</text>
<line x1="425.5" y1="356.93" x2="427.5" y2="356.93" stroke="#000" stroke-width="1"/>
<text x="423.8" y="359.53" font-size="7.0" text-anchor="end" font-weight="bold" >60</text>
<line x1="425.5" y1="344.4" x2="427.5" y2="344.4" stroke="#000" stroke-width="1"/>
<text x="423.8" y="347" font-size="7.0" text-anchor="end" font-weight="bold" >70</text>
<line x1="427" y1="432.1" x2="514.8" y2="432.1" stroke="#000" stroke-width="1"/>
<line x1="427.5" y1="432.1" x2="427.5" y2="434.1" stroke="#000" stroke-width="1"/>
<line x1="514.8" y1="432.1" x2="514.8" y2="434.1" stroke="#000" stroke-width="1"/>
<text transform="translate(405.6,386.2) rotate(-90)" font-size="9.0" text-anchor="middle" font-weight="bold">nmol Citrate/10<tspan font-size="5.5" dy="-3.2">6</tspan><tspan dy="3.2"> </tspan>cells</text>
<rect x="439.4" y="386.8" width="19.6" height="45.3" fill="#444444" stroke="#000" stroke-width="1"/>
<line x1="449.2" y1="382.5" x2="449.2" y2="386.8" stroke="#000" stroke-width="1"/>
<line x1="447.45" y1="382.5" x2="450.95" y2="382.5" stroke="#000" stroke-width="1.2"/>
<rect x="459" y="382.5" width="20.2" height="49.6" fill="#a8a8a8" stroke="#000" stroke-width="1"/>
<line x1="469.1" y1="377.2" x2="469.1" y2="382.5" stroke="#000" stroke-width="1"/>
<line x1="467.35" y1="377.2" x2="470.85" y2="377.2" stroke="#000" stroke-width="1.2"/>
<rect x="479.2" y="360.3" width="19.5" height="71.8" fill="url(#pd)" stroke="#000" stroke-width="1"/>
<line x1="488.95" y1="355.4" x2="488.95" y2="360.3" stroke="#000" stroke-width="1"/>
<line x1="487.2" y1="355.4" x2="490.7" y2="355.4" stroke="#000" stroke-width="1.2"/>
<circle cx="489.1" cy="341.4" r="0.95" fill="#000"/>
<text x="488.4" y="351" font-size="7.0" text-anchor="middle" font-weight="bold" font-style="italic">#</text>
<text x="471.9" y="443.5" font-size="10.4" text-anchor="middle" font-weight="bold" >H1993</text>
</svg></body></html>
